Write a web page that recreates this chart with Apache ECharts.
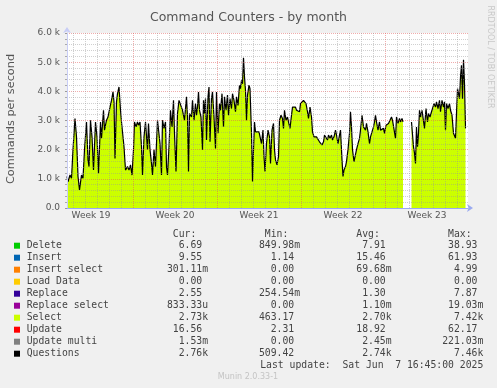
<!DOCTYPE html>
<html><head><meta charset="utf-8">
<script src="https://cdn.jsdelivr.net/npm/echarts@6/dist/echarts.min.js"></script>
<style>html,body{margin:0;padding:0;background:#f0f0f0;}#c{width:497px;height:388px;}</style>
</head><body><div id="c"></div>
<script>
// hours since the left edge of the plot (2 h per sample step)
const hours = [0,2,6,9,12,16,19,22,25,29,32,35,39,42,44,47,50,53,57,60,63,67,69,73,75,79,82,86,89,92,94,96,99,101,104,107,109,112,114,117,121,124,127,130,133,135,138,141,143,146,149,151,154,157,161,163,166,169,171,174,177,181,183,186,189,191,194,
197,199,201,204,207,210,213,215,218,221,224,227,231,233,235,239,241,243,245,249,251,254,257,259,261,263,265,268,271,273,275,277,279,282,284,286,289,291,294,297,299,302,305,307,310,313,315,318,321,323,326,329,331,334,337,339,342,345,347,349,351,353,355,357,359,361,364,366,369,371,373,375,377,381,384,387,389,392,394,396,
399,402,405,407,410,413,415,417,420,423,425,428,431,433,435,438,441,443,446,449,451,454,457,459,462,465,467,470,473,475,478,481,483,486,489,491,494,497,499,502,505,507,510,513,515,518,521,523,526,529,531,534,537,539,542,545,547,550,552,554,557,559,562,565,567,569,571,574,577,579,582,585,587,590,593,
597,599,602,605,607,610,613,615,617,619,622,625,627,630,633,635,638,641,643,646,649,651,654,657,659,662,665,667,670,672,680,689,691,693,695,697,699,701,703,705,707,710,713,715,718,721,723,726,729,731,734,737,739,742,745,747,750,753,755,757,759,762,765,767,770,773,775,777,779,781,783,785,787,789,791,793,795,797];

const selectValues = [1080,900,1130,1020,2000,3070,2440,1080,620,1130,1020,2000,2950,1650,1420,3010,2440,1300,2950,2440,1190,2950,2390,3350,2670,3010,3120,3460,3690,3980,3640,1700,3640,3920,4150,3350,2950,3010,2100,1300,1420,1300,1480,1130,2000,2950,2780,2950,2840,2950,2100,1130,2440,2950,2000,2900,2000,1530,1130,2000,1420,3010,3070,2210,1130,3010,2730,
2950,1420,1130,2100,3350,2780,3690,2560,1250,3240,3690,3640,3350,3410,3010,3810,3120,1250,3240,3120,3690,3010,3580,3180,3460,3980,3350,3120,2000,3690,3240,3750,2330,3810,4150,2270,3750,3980,3120,2040,3980,2560,3580,3350,3920,2780,3810,3350,3870,3180,3750,3410,3920,3690,3300,3810,3520,4210,4090,4380,4260,5150,4490,4030,3010,3870,4210,4090,2560,910,2000,2950,2610,2670,2610,2670,2210,2670,1760,1250,
2210,2670,2440,1530,2670,2900,2000,1650,1480,1760,3010,3180,3070,2730,3350,3010,3120,2950,2730,3180,3460,3410,3460,3350,3410,3300,3580,3640,3690,3720,3580,3300,3070,3460,3120,2610,2440,2390,2440,2390,2270,2330,2160,2270,2500,2440,2330,2500,2390,2500,2330,2440,2670,2500,2210,2500,2670,1650,1080,1300,1420,1590,2000,2560,3300,2780,2000,1590,1590,2000,2210,2390,2670,3180,2780,
2670,2900,2610,2210,2440,2500,2780,2950,3180,2950,2670,2950,2670,2610,2730,2560,2840,2840,2900,2840,3120,3010,3070,2390,3120,2900,3070,2950,3070,2950,null,2950,2900,2100,1880,1530,2780,2100,2560,3350,3120,3350,3300,2730,3410,2950,3240,3120,3300,3240,3580,3460,3640,3410,3690,3300,3690,3460,3640,2670,3580,3410,3580,3350,3180,2560,2500,2390,3240,4090,3920,3750,4490,4890,3750,5080,4260,2730];

const questionsValues = [1080,900,1130,1020,2000,3070,2440,1080,620,1130,1020,2000,2950,1650,1420,3010,2440,1300,2950,2440,1190,2950,2390,3350,2670,3010,3120,3460,3690,3980,3640,1700,3640,3920,4150,3350,2950,3010,2100,1300,1420,1300,1480,1130,2000,2950,2780,2950,2840,2950,2100,1130,2440,2950,2000,2900,2000,1530,1130,2000,1420,3010,3070,2210,1130,3010,2730,
2950,1420,1130,2100,3350,2780,3690,2560,1250,3240,3690,3640,3350,3410,3010,3810,3120,1250,3240,3120,3690,3010,3580,3180,3460,3980,3350,3120,2000,3690,3240,3750,2330,3810,4150,2270,3750,3980,3120,2040,3980,2560,3580,3350,3920,2780,3810,3350,3870,3180,3750,3410,3920,3690,3300,3810,3520,4210,4090,4380,4260,5150,4490,4030,3010,3870,4210,4090,2560,910,2000,2950,2610,2670,2610,2670,2210,2670,1760,1250,
2210,2670,2440,1530,2670,2900,2000,1650,1480,1760,3010,3180,3070,2730,3350,3010,3120,2950,2730,3180,3460,3410,3460,3350,3410,3300,3580,3640,3690,3720,3580,3300,3070,3460,3120,2610,2440,2390,2440,2390,2270,2330,2160,2270,2500,2440,2330,2500,2390,2500,2330,2440,2670,2500,2210,2500,2670,1650,1080,1300,1420,1590,2000,2560,3300,2780,2000,1590,1590,2000,2210,2390,2670,3180,2780,
2670,2900,2610,2210,2440,2500,2780,2950,3180,2950,2670,2950,2670,2610,2730,2560,2840,2840,2900,2840,3120,3010,3070,2390,3120,2900,3070,2950,3070,2950,null,2950,2900,2100,1880,1530,2780,2100,2560,3350,3120,3350,3300,2730,3410,2950,3240,3120,3300,3240,3580,3460,3640,3410,3690,3300,3690,3460,3640,2670,3580,3410,3580,3350,3180,2560,2500,2390,3240,4090,3920,3750,4490,4890,3750,5080,4260,2730];

const yTickLabels = ['0.0','1.0 k','2.0 k','3.0 k','4.0 k','5.0 k','6.0 k'];
const weekLabels = ['Week 19','Week 20','Week 21','Week 22','Week 23'];
const weekLabelHours = [48,216,384,552,720];
const weekStartHours = [132,300,468,636];
const xMaxHours = 802;

const legendNames = ['Delete','Insert','Insert select','Load Data','Replace','Replace select','Select','Update','Update multi','Questions'];
const legendColors = ['#00cc00','#0066b3','#ff8000','#ffcc00','#330099','#990099','#ccff00','#ff0000','#808080','#000000'];
const curValues = ['6.69 ','9.55 ','301.11m','0.00 ','2.55 ','833.33u','2.73k','16.56 ','1.53m','2.76k'];
const minValues = ['849.98m','1.14 ','0.00 ','0.00 ','254.54m','0.00 ','463.17 ','2.31 ','0.00 ','509.42 '];
const avgValues = ['7.91 ','15.46 ','69.68m','0.00 ','1.30 ','1.10m','2.70k','18.92 ','2.45m','2.74k'];
const maxValues = ['38.93 ','61.93 ','4.99 ','0.00 ','7.87 ','19.03m','7.42k','62.17 ','221.03m','7.46k'];

const dayHours = [];
for (let h = 12; h <= xMaxHours; h += 24) dayHours.push(h);

const selectData = hours.map((h, i) => [h, selectValues[i]]);
const questionsData = hours.map((h, i) => [h, questionsValues[i]]);

const redGrid = 'rgba(225,90,90,0.5)';
const grayGrid = 'rgba(150,150,150,0.45)';
const mono = 'DejaVu Sans Mono';
const graphics = [];
const colRight = [208, 300, 391.5, 483.3];
const headers = ['Cur:','Min:','Avg:','Max:'];
headers.forEach((t, k) => graphics.push({type:'text', x: colRight[k] - 11.7, y: 234, style:{text:t, font:'9.75px ' + mono, fill:'#444', textAlign:'right', textVerticalAlign:'middle'}}));
legendNames.forEach((n, i) => {
  const y = 245.7 + 12 * i;
  graphics.push({type:'rect', shape:{x:14, y:y-3, width:6, height:6}, style:{fill:legendColors[i]}});
  graphics.push({type:'text', x:26.7, y:y, style:{text:n, font:'9.75px ' + mono, fill:'#444', textVerticalAlign:'middle'}});
  [curValues, minValues, avgValues, maxValues].forEach((arr, k) => {
    graphics.push({type:'text', x: colRight[k], y: y, style:{text:arr[i], font:'9.75px ' + mono, fill:'#444', textAlign:'right', textVerticalAlign:'middle'}});
  });
});
graphics.push({type:'text', x:483.3, y:365.7, style:{text:'Last update:  Sat Jun  7 16:45:00 2025', font:'9.75px ' + mono, fill:'#444', textAlign:'right', textVerticalAlign:'middle'}});
graphics.push({type:'text', x:248, y:377, style:{text:'Munin 2.0.33-1', font:'8px DejaVu Sans', fill:'#c4c4c4', textAlign:'center', textVerticalAlign:'middle'}});
graphics.push({type:'text', x:490, y:57, rotation:-Math.PI/2, style:{text:'RRDTOOL / TOBI OETIKER', font:'8px DejaVu Sans', fill:'#c8c8c8', textAlign:'center', textVerticalAlign:'middle'}});
graphics.push({type:'text', x:11, y:119, rotation:Math.PI/2, style:{text:'Commands per second', font:'11.3px DejaVu Sans', fill:'#555', textAlign:'center', textVerticalAlign:'middle'}});

const chart = echarts.init(document.getElementById('c'), null, {renderer:'canvas'});
chart.setOption({
  backgroundColor:'#f0f0f0',
  animation:false,
  title:{text:'Command Counters - by month', left:'center', top:6, textStyle:{fontFamily:'DejaVu Sans', fontSize:12.5, fontWeight:'normal', color:'#555'}},
  grid:{left:67, right:29, top:33, bottom:180, show:true, backgroundColor:'#ffffff', borderWidth:0},
  xAxis:{type:'value', min:0, max:xMaxHours, z:5,
    axisLine:{show:true, onZero:false, lineStyle:{color:'#9aaaf0'}, symbol:['none','arrow'], symbolSize:[6,6], symbolOffset:[0,5]},
    axisTick:{show:false},
    splitLine:{show:false},
    axisLabel:{customValues:weekLabelHours, color:'#555', fontSize:9, fontFamily:'DejaVu Sans', margin:3,
      formatter:(v) => { const i = weekLabelHours.indexOf(v); return i >= 0 ? weekLabels[i] : ''; }}
  },
  yAxis:{type:'value', min:0, max:6000, interval:1000, z:5,
    axisLine:{show:true, lineStyle:{color:'#c8cdf6'}, symbol:['none','arrow'], symbolSize:[6,6], symbolOffset:[0,6]},
    axisTick:{show:true, length:2, lineStyle:{color:'#999'}},
    minorTick:{show:true, splitNumber:5, length:2, lineStyle:{color:'#aaa'}},
    splitLine:{show:true, lineStyle:{color:redGrid, type:[1,1], width:1}},
    minorSplitLine:{show:true, lineStyle:{color:grayGrid, type:[1,1], width:1}},
    axisLabel:{color:'#555', fontSize:9, fontFamily:'DejaVu Sans', margin:7, formatter:(v) => yTickLabels[Math.round(v/1000)]}
  },
  graphic: graphics,
  series:[
    {name:'Select', type:'line', data:selectData, showSymbol:false, symbol:'none', z:2,
      lineStyle:{width:0}, areaStyle:{color:'#ccff00', opacity:1}, connectNulls:false},
    {name:'Questions', type:'line', data:questionsData, showSymbol:false, symbol:'none', z:3,
      lineStyle:{width:1.2, color:'#000'}, connectNulls:false,
      markLine:{silent:true, symbol:'none', animation:false, label:{show:false},
        data: dayHours.map(h => ({xAxis:h, lineStyle:{color: weekStartHours.includes(h) ? redGrid : grayGrid, type:[1,1], width:1}}))}
    }
  ]
});
</script></body></html>
